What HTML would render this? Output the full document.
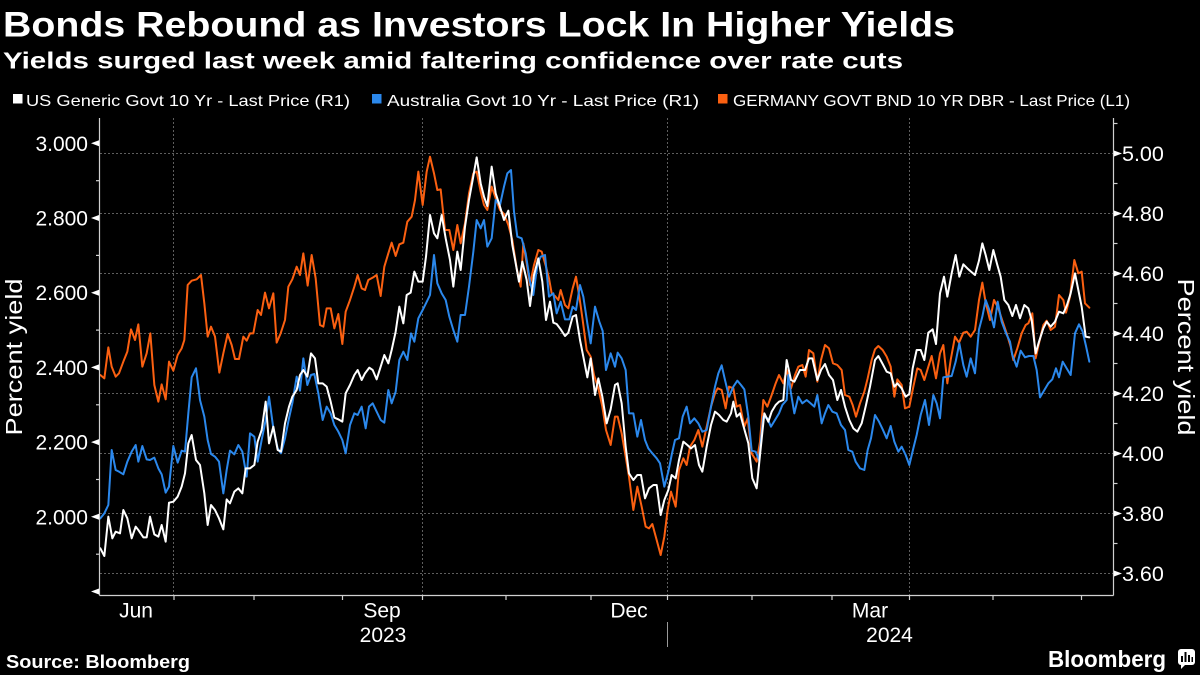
<!DOCTYPE html>
<html>
<head>
<meta charset="utf-8">
<style>
html,body{margin:0;padding:0;background:#000;}
svg{display:block;}
text{font-family:"Liberation Sans",Arial,sans-serif;fill:#fff;}
</style>
</head>
<body>
<svg width="1200" height="675" viewBox="0 0 1200 675" xmlns="http://www.w3.org/2000/svg">
<rect x="0" y="0" width="1200" height="675" fill="#000"/>

<!-- Titles -->
<text x="3" y="36.7" font-size="35" font-weight="bold" textLength="952" lengthAdjust="spacingAndGlyphs">Bonds Rebound as Investors Lock In Higher Yields</text>
<text x="3" y="68.5" font-size="23" font-weight="bold" textLength="900" lengthAdjust="spacingAndGlyphs">Yields surged last week amid faltering confidence over rate cuts</text>

<!-- Legend -->
<rect x="13" y="94" width="9.5" height="9.5" fill="#ffffff"/>
<text x="26" y="106" font-size="16" textLength="324" lengthAdjust="spacingAndGlyphs">US Generic Govt 10 Yr - Last Price (R1)</text>
<rect x="372" y="94" width="9.5" height="9.5" fill="#2b88ec"/>
<text x="387" y="106" font-size="16" textLength="312" lengthAdjust="spacingAndGlyphs">Australia Govt 10 Yr - Last Price (R1)</text>
<rect x="718" y="94" width="9.5" height="9.5" fill="#fb6011"/>
<text x="733" y="106" font-size="16" textLength="397" lengthAdjust="spacingAndGlyphs">GERMANY GOVT BND 10 YR DBR - Last Price (L1)</text>

<!-- Horizontal gridlines -->
<g stroke="#5e5e5e" stroke-width="1" stroke-dasharray="2,2">
<line x1="100" y1="153.5" x2="1113" y2="153.5"/>
<line x1="100" y1="213.5" x2="1113" y2="213.5"/>
<line x1="100" y1="273.5" x2="1113" y2="273.5"/>
<line x1="100" y1="333.5" x2="1113" y2="333.5"/>
<line x1="100" y1="393.5" x2="1113" y2="393.5"/>
<line x1="100" y1="453.5" x2="1113" y2="453.5"/>
<line x1="100" y1="513.5" x2="1113" y2="513.5"/>
<line x1="100" y1="573.5" x2="1113" y2="573.5"/>
<!-- vertical gridlines -->
<line x1="173.5" y1="118" x2="173.5" y2="595"/>
<line x1="422.5" y1="118" x2="422.5" y2="595"/>
<line x1="667.5" y1="118" x2="667.5" y2="595"/>
<line x1="909.5" y1="118" x2="909.5" y2="595"/>
</g>

<!-- Series -->
<g transform="translate(0,140) scale(0.333333)" fill="none" stroke-width="6" stroke-linejoin="round" stroke-linecap="round">
<polyline stroke="#fb6011" points="301,705 313,715 325,622 335,680 347,710 357,700 370,665 382,635 393,568 405,600 415,553 427,680 440,640 451,580 463,735 475,785 485,733 497,778 507,665 520,692 533,645 545,625 553,600 563,435 575,422 590,418 603,405 613,490 623,590 633,560 645,590 658,698 670,640 683,582 695,615 705,657 717,657 730,590 740,602 750,580 760,580 773,510 783,525 795,458 807,505 820,460 830,608 842,580 855,540 865,440 877,418 890,380 900,405 910,340 923,437 935,345 947,415 960,555 970,560 980,505 992,505 1003,565 1015,522 1027,612 1037,515 1050,480 1063,440 1073,405 1085,445 1095,450 1105,420 1118,413 1130,405 1142,468 1153,380 1165,340 1175,308 1187,348 1198,313 1210,308 1222,245 1235,230 1245,180 1255,95 1268,195 1280,95 1290,50 1302,100 1312,150 1322,148 1335,270 1348,270 1360,330 1372,255 1382,310 1395,250 1407,160 1420,100 1430,95 1442,155 1452,195 1462,210 1475,140 1487,175 1500,210 1512,222 1525,255 1537,300 1550,385 1562,440 1570,310 1580,370 1590,435 1602,375 1615,330 1625,335 1638,380 1647,415 1655,460 1665,468 1675,480 1682,450 1695,495 1705,505 1718,445 1728,410 1738,470 1748,540 1760,630 1772,650 1782,705 1795,745 1807,800 1818,870 1832,915 1845,830 1853,830 1865,880 1877,950 1887,1010 1900,1110 1912,1040 1925,1100 1937,1160 1947,1165 1957,1152 1970,1200 1982,1245 1993,1190 2003,1110 2013,1055 2027,1100 2037,990 2050,955 2060,975 2070,920 2083,900 2095,870 2107,920 2120,860 2133,800 2145,760 2153,745 2165,750 2177,805 2187,740 2200,745 2210,800 2220,795 2233,860 2243,835 2255,940 2270,965 2280,905 2290,780 2302,800 2315,765 2327,730 2337,705 2350,730 2360,690 2373,745 2385,705 2395,680 2407,675 2417,710 2427,630 2440,640 2452,725 2463,660 2475,615 2487,625 2499,670 2512,675 2525,690 2535,765 2548,770 2558,795 2568,830 2580,790 2593,755 2603,715 2615,660 2625,628 2635,618 2648,630 2660,650 2672,680 2683,770 2692,718 2705,735 2715,805 2728,800 2740,740 2752,685 2762,690 2773,720 2785,680 2795,648 2808,715 2820,640 2830,615 2842,730 2852,660 2865,590 2877,608 2890,578 2900,575 2912,590 2925,570 2937,480 2947,428 2957,488 2970,540 2982,480 2995,505 3008,545 3020,580 3032,620 3040,660 3052,625 3065,580 3077,555 3085,550 3097,520 3107,655 3117,610 3130,555 3140,542 3152,570 3165,560 3177,465 3190,480 3198,518 3210,470 3223,360 3235,400 3245,395 3255,490 3268,503"/>
<polyline stroke="#2b88ec" points="301,1135 313,1120 325,1095 335,930 347,990 357,995 370,1003 382,965 395,935 407,915 415,965 427,918 440,958 450,960 463,953 475,985 485,1003 497,1058 507,1040 520,918 533,968 545,932 555,935 565,820 575,712 588,685 600,780 613,830 623,900 633,942 645,950 657,965 670,1060 680,990 690,932 703,943 715,915 727,935 740,1010 750,880 763,890 773,965 785,900 797,840 807,770 820,865 833,925 843,940 855,895 867,835 877,790 890,710 900,752 910,655 922,735 933,705 943,702 955,760 968,840 980,800 992,820 1003,855 1015,875 1027,900 1037,940 1050,855 1063,820 1073,825 1085,800 1097,865 1107,800 1118,790 1130,815 1142,840 1153,848 1165,750 1175,790 1187,755 1198,660 1210,635 1222,660 1233,580 1243,605 1255,535 1268,510 1278,490 1290,465 1302,345 1312,430 1325,460 1337,480 1348,530 1360,570 1372,605 1382,525 1395,525 1407,440 1420,335 1430,240 1442,265 1452,240 1462,320 1475,295 1487,180 1500,195 1512,140 1522,100 1533,90 1542,215 1552,290 1565,295 1577,340 1590,425 1600,465 1612,375 1622,350 1635,345 1647,470 1660,460 1670,520 1682,485 1695,538 1708,538 1718,500 1728,510 1740,435 1750,470 1762,550 1772,610 1785,500 1798,545 1808,573 1818,690 1832,640 1845,680 1853,638 1865,655 1877,690 1887,820 1900,820 1912,890 1923,840 1935,900 1945,925 1957,940 1970,955 1980,970 1993,1040 2005,995 2015,945 2025,900 2037,895 2048,830 2060,800 2070,850 2083,835 2095,850 2107,875 2120,870 2133,800 2145,740 2155,700 2165,676 2175,720 2187,770 2200,740 2212,722 2223,735 2233,748 2245,830 2255,932 2267,935 2277,960 2290,830 2302,835 2313,860 2325,840 2337,820 2347,795 2360,780 2365,705 2373,760 2383,820 2395,770 2407,790 2420,780 2432,790 2443,800 2452,765 2465,850 2475,820 2485,795 2497,815 2510,820 2523,855 2535,870 2545,930 2557,935 2567,965 2580,985 2593,990 2603,930 2613,895 2625,825 2637,845 2648,868 2660,895 2672,858 2683,905 2695,935 2705,920 2717,945 2728,975 2740,925 2750,885 2762,825 2775,780 2787,855 2800,765 2810,790 2820,835 2830,712 2842,710 2855,708 2867,665 2878,610 2890,675 2900,710 2912,655 2925,700 2937,568 2947,530 2957,480 2970,515 2982,562 2993,485 3005,545 3018,580 3030,605 3037,645 3050,680 3062,632 3075,652 3087,648 3100,648 3110,690 3120,772 3132,752 3145,730 3157,718 3168,685 3177,712 3188,665 3200,685 3212,705 3225,580 3237,553 3248,575 3258,618 3268,665"/>
<polyline stroke="#ffffff" points="301,1225 313,1248 325,1130 337,1195 347,1175 360,1180 370,1110 382,1135 395,1195 407,1160 415,1170 430,1192 440,1192 450,1130 463,1183 475,1190 485,1155 497,1205 507,1088 520,1085 533,1070 545,1040 555,1000 565,910 575,885 588,960 600,975 613,1060 623,1155 633,1095 645,1110 657,1135 670,1168 680,1078 690,1090 703,1055 715,1045 727,1060 737,985 750,985 763,975 773,905 785,870 797,785 807,910 820,860 833,930 843,935 855,850 867,800 877,770 890,750 900,705 910,690 922,710 933,640 945,655 955,730 968,730 980,740 992,785 1003,833 1015,838 1027,845 1037,760 1050,735 1063,705 1073,690 1085,720 1095,700 1108,683 1118,690 1130,718 1142,680 1153,645 1165,670 1175,630 1187,575 1198,500 1210,550 1220,465 1232,458 1243,395 1255,425 1268,425 1278,350 1290,225 1302,280 1312,295 1325,225 1337,295 1350,360 1360,440 1372,335 1382,390 1395,260 1407,180 1418,120 1430,52 1442,130 1452,170 1462,198 1475,80 1487,160 1500,200 1512,240 1525,212 1537,315 1548,375 1557,425 1567,365 1580,420 1590,498 1602,405 1615,355 1627,425 1638,540 1650,485 1660,548 1670,552 1682,568 1695,588 1705,578 1718,530 1728,525 1740,600 1750,650 1762,712 1772,655 1785,765 1795,715 1807,770 1820,850 1832,808 1845,735 1853,730 1865,790 1877,920 1887,1000 1900,1020 1912,1005 1923,1005 1935,1075 1947,1045 1960,1035 1970,1035 1982,1125 1993,1080 2005,1050 2015,1005 2027,1015 2037,960 2050,905 2062,915 2073,925 2085,915 2097,975 2107,995 2120,920 2133,855 2145,815 2157,825 2170,840 2180,845 2193,820 2200,785 2210,830 2220,820 2235,875 2245,910 2257,1015 2270,1045 2280,945 2293,820 2305,845 2315,815 2327,795 2337,785 2350,780 2360,660 2373,720 2383,725 2400,690 2415,690 2427,655 2437,655 2452,720 2463,690 2475,672 2487,705 2499,720 2512,780 2523,750 2535,800 2548,840 2560,865 2572,875 2585,850 2598,795 2610,740 2625,660 2635,648 2648,672 2660,695 2672,700 2683,740 2692,730 2705,745 2717,770 2728,762 2738,685 2750,630 2762,630 2773,660 2785,578 2798,568 2808,612 2820,460 2832,410 2842,470 2855,400 2867,345 2878,410 2890,373 2902,385 2913,395 2925,405 2937,362 2947,310 2957,345 2968,390 2980,330 2992,375 3002,410 3013,480 3025,495 3037,528 3048,495 3060,535 3073,495 3085,505 3095,540 3107,640 3117,605 3130,565 3140,545 3152,560 3165,545 3177,515 3190,520 3200,498 3212,460 3225,400 3235,450 3245,500 3257,590 3268,592"/>
</g>

<!-- Axes -->
<g stroke="#d0d0d0" stroke-width="1.2" fill="none">
<line x1="99.5" y1="118" x2="99.5" y2="595.5"/>
<line x1="1113.5" y1="118" x2="1113.5" y2="595.5"/>
<line x1="99.5" y1="595.5" x2="1113.5" y2="595.5"/>
<!-- left minor ticks -->
<line x1="96" y1="180.7" x2="99.5" y2="180.7"/>
<line x1="96" y1="255.4" x2="99.5" y2="255.4"/>
<line x1="96" y1="330.1" x2="99.5" y2="330.1"/>
<line x1="96" y1="404.8" x2="99.5" y2="404.8"/>
<line x1="96" y1="479.5" x2="99.5" y2="479.5"/>
<line x1="96" y1="554.2" x2="99.5" y2="554.2"/>
<!-- right minor ticks -->
<line x1="1113.5" y1="123.5" x2="1117.5" y2="123.5"/>
<line x1="1113.5" y1="183.5" x2="1117.5" y2="183.5"/>
<line x1="1113.5" y1="243.5" x2="1117.5" y2="243.5"/>
<line x1="1113.5" y1="303.5" x2="1117.5" y2="303.5"/>
<line x1="1113.5" y1="363.5" x2="1117.5" y2="363.5"/>
<line x1="1113.5" y1="423.5" x2="1117.5" y2="423.5"/>
<line x1="1113.5" y1="483.5" x2="1117.5" y2="483.5"/>
<line x1="1113.5" y1="543.5" x2="1117.5" y2="543.5"/>
<!-- x ticks -->
<line x1="174" y1="595.5" x2="174" y2="600"/>
<line x1="254" y1="595.5" x2="254" y2="600"/>
<line x1="342.5" y1="595.5" x2="342.5" y2="600"/>
<line x1="422.5" y1="595.5" x2="422.5" y2="600"/>
<line x1="506" y1="595.5" x2="506" y2="600"/>
<line x1="591" y1="595.5" x2="591" y2="600"/>
<line x1="667.5" y1="595.5" x2="667.5" y2="600"/>
<line x1="752" y1="595.5" x2="752" y2="600"/>
<line x1="832" y1="595.5" x2="832" y2="600"/>
<line x1="909.5" y1="595.5" x2="909.5" y2="600"/>
<line x1="993" y1="595.5" x2="993" y2="600"/>
<line x1="1081.5" y1="595.5" x2="1081.5" y2="600"/>
</g>
<!-- year separator -->
<line x1="667.5" y1="622" x2="667.5" y2="647" stroke="#9a9a9a" stroke-width="1"/>

<!-- left tick markers -->
<g fill="#ffffff">
<polygon points="91,143.3 99,140.3 99,146.3"/>
<polygon points="91,218 99,215 99,221"/>
<polygon points="91,292.7 99,289.7 99,295.7"/>
<polygon points="91,367.4 99,364.4 99,370.4"/>
<polygon points="91,442.1 99,439.1 99,445.1"/>
<polygon points="91,516.8 99,513.8 99,519.8"/>
<polygon points="91,591.5 99,588.5 99,594.5"/>
<!-- right tick markers -->
<polygon points="1122,153.5 1114,150.5 1114,156.5"/>
<polygon points="1122,213.5 1114,210.5 1114,216.5"/>
<polygon points="1122,273.5 1114,270.5 1114,276.5"/>
<polygon points="1122,333.5 1114,330.5 1114,336.5"/>
<polygon points="1122,393.5 1114,390.5 1114,396.5"/>
<polygon points="1122,453.5 1114,450.5 1114,456.5"/>
<polygon points="1122,513.5 1114,510.5 1114,516.5"/>
<polygon points="1122,573.5 1114,570.5 1114,576.5"/>
</g>

<!-- left axis labels -->
<g font-size="21" text-anchor="end">
<text x="88" y="150.8">3.000</text>
<text x="88" y="225.5">2.800</text>
<text x="88" y="300.2">2.600</text>
<text x="88" y="374.9">2.400</text>
<text x="88" y="449.6">2.200</text>
<text x="88" y="524.3">2.000</text>
</g>
<!-- right axis labels -->
<g font-size="21.5">
<text x="1122" y="161">5.00</text>
<text x="1122" y="221">4.80</text>
<text x="1122" y="281">4.60</text>
<text x="1122" y="341">4.40</text>
<text x="1122" y="401">4.20</text>
<text x="1122" y="461">4.00</text>
<text x="1122" y="521">3.80</text>
<text x="1122" y="581">3.60</text>
</g>

<!-- axis titles -->
<text transform="translate(22,357) rotate(-90)" font-size="23" text-anchor="middle" textLength="157" lengthAdjust="spacingAndGlyphs">Percent yield</text>
<text transform="translate(1178,357) rotate(90)" font-size="23" text-anchor="middle" textLength="157" lengthAdjust="spacingAndGlyphs">Percent yield</text>

<!-- x labels -->
<g font-size="21" text-anchor="middle">
<text x="136" y="617.5">Jun</text>
<text x="382" y="617.5">Sep</text>
<text x="629" y="617.5">Dec</text>
<text x="870" y="617.5">Mar</text>
<text x="383" y="642">2023</text>
<text x="889.5" y="642">2024</text>
</g>

<!-- footer -->
<text x="6" y="668" font-size="18" font-weight="bold" textLength="184" lengthAdjust="spacingAndGlyphs">Source: Bloomberg</text>
<text x="1048" y="667" font-size="23" font-weight="bold" textLength="118" lengthAdjust="spacingAndGlyphs">Bloomberg</text>
<g>
<rect x="1178" y="649" width="17" height="16" rx="3" fill="#ffffff"/>
<polygon points="1181,664 1186,664 1181,669" fill="#ffffff"/>
<rect x="1181" y="656" width="2" height="6" fill="#000"/>
<rect x="1184.5" y="652" width="2" height="10" fill="#000"/>
<rect x="1188" y="655" width="2" height="7" fill="#000"/>
<rect x="1191.5" y="657" width="1.5" height="5" fill="#000"/>
</g>
</svg>
</body>
</html>
